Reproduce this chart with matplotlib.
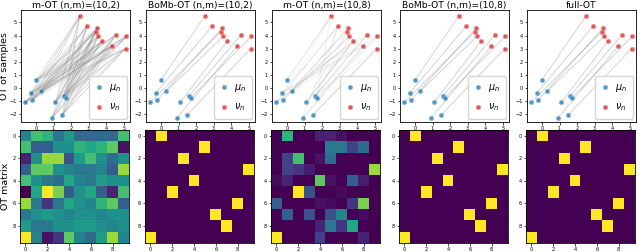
import numpy as np
import matplotlib
matplotlib.use("Agg")
import matplotlib.pyplot as plt

# source samples (rows) and target samples (columns)
mu_x = [0.0, -0.3, -0.6, -0.2, 0.3, 1.1, 1.6, 1.7, 0.9, 1.5]
mu_y = [0.6, -0.4, -1.1, -0.9, -0.25, -1.1, -0.6, -0.75, -2.3, -2.05]
nu_x = [5.1, 2.5, 3.75, 3.4, 3.55, 2.9, 5.15, 4.35, 4.55, 3.5]
nu_y = [3.0, 5.5, 3.55, 4.3, 3.95, 4.7, 3.95, 3.2, 4.05, 4.6]

titles = ["m-OT (n,m)=(10,2)", "BoMb-OT (n,m)=(10,2)", "m-OT (n,m)=(10,8)",
          "BoMb-OT (n,m)=(10,8)", "full-OT"]

# transport plans
m_ot_10_2 = [
    [0.45, 0.70, 0.65, 0.40, 0.55, 0.35, 0.35, 0.35, 0.35, 0.70],
    [0.70, 0.30, 0.30, 0.50, 0.50, 0.65, 0.60, 0.65, 0.75, 0.05],
    [0.10, 0.50, 0.85, 0.85, 0.25, 0.55, 0.70, 0.50, 0.35, 0.50],
    [0.30, 0.75, 0.75, 0.50, 0.45, 0.40, 0.40, 0.45, 0.30, 0.85],
    [0.70, 0.50, 0.40, 0.35, 0.60, 0.45, 0.40, 0.55, 0.50, 0.50],
    [0.00, 0.60, 1.00, 0.80, 0.30, 0.50, 0.60, 0.30, 0.10, 0.70],
    [0.85, 0.40, 0.15, 0.40, 0.60, 0.50, 0.45, 0.65, 0.75, 0.30],
    [0.40, 0.50, 0.55, 0.50, 0.45, 0.50, 0.50, 0.45, 0.50, 0.50],
    [0.55, 0.40, 0.40, 0.50, 0.50, 0.55, 0.55, 0.50, 0.45, 0.50],
    [1.00, 0.45, 0.05, 0.15, 0.75, 0.45, 0.35, 0.55, 0.85, 0.45],
]
m_ot_10_8 = [
    [0.00, 0.65, 0.00, 0.00, 0.10, 0.10, 0.05, 0.00, 0.00, 0.00],
    [0.00, 0.00, 0.00, 0.00, 0.00, 0.40, 0.40, 0.20, 0.35, 0.00],
    [0.00, 0.20, 0.70, 0.00, 0.05, 0.35, 0.00, 0.00, 0.00, 0.00],
    [0.00, 0.20, 0.15, 0.08, 0.00, 0.00, 0.00, 0.00, 0.00, 0.85],
    [0.03, 0.10, 0.00, 0.00, 0.75, 0.05, 0.00, 0.30, 0.08, 0.00],
    [0.00, 0.00, 1.00, 0.25, 0.00, 0.00, 0.03, 0.00, 0.00, 0.00],
    [0.30, 0.00, 0.00, 0.00, 0.05, 0.03, 0.00, 0.15, 0.80, 0.00],
    [0.00, 0.30, 0.00, 0.25, 0.00, 0.25, 0.45, 0.00, 0.03, 0.00],
    [0.00, 0.00, 0.00, 0.00, 0.10, 0.40, 0.15, 0.60, 0.00, 0.00],
    [1.00, 0.00, 0.00, 0.00, 0.20, 0.00, 0.00, 0.00, 0.10, 0.00],
]
perm = [1, 5, 3, 9, 4, 2, 8, 6, 7, 0]

def perm_matrix(p):
    M = np.zeros((len(p), len(p)))
    for i, j in enumerate(p):
        M[i, j] = 1.0
    return M

plans = [np.array(m_ot_10_2), perm_matrix(perm), np.array(m_ot_10_8),
         perm_matrix(perm), perm_matrix(perm)]

W, H = 640, 252
fig = plt.figure(figsize=(6.4, 2.52), dpi=100)
lefts = [21, 146, 272, 400, 527]
aw = 109

for k in range(5):
    G = plans[k]
    ax = fig.add_axes([lefts[k] / W, 1 - 122 / H, aw / W, 112 / H])
    mx = G.max()
    for i in range(10):
        for j in range(10):
            if G[i, j] / mx > 1e-8:
                ax.plot([mu_x[i], nu_x[j]], [mu_y[i], nu_y[j]],
                        color=[.5, .5, .5], alpha=0.4 * G[i, j] / mx, lw=0.6,
                        zorder=1)
    ax.scatter(mu_x, mu_y, s=11, color='#1f77b4', alpha=0.75,
               edgecolors='#9cc3e4', linewidths=0.5, label=r'$\mu_n$', zorder=3)
    ax.scatter(nu_x, nu_y, s=11, color='#d62728', alpha=0.75,
               edgecolors='#f0a0a0', linewidths=0.5, label=r'$\nu_n$', zorder=3)
    ax.set_xlim(-0.85, 5.35)
    ax.set_ylim(-2.6, 5.95)
    ax.set_xticks([0, 1, 2, 3, 4, 5])
    ax.set_yticks([-2, -1, 0, 1, 2, 3, 4, 5])
    ax.tick_params(labelsize=3.6, length=1.8, width=0.5, pad=1.2)
    for s in ax.spines.values():
        s.set_linewidth(0.6)
    ax.set_title(titles[k], fontsize=6.6, pad=1.5)
    ax.legend(loc='lower right', fontsize=7, handletextpad=0.5,
              borderpad=0.6, labelspacing=0.8, markerscale=1.0,
              handlelength=1.0, borderaxespad=0.3)
    if k == 0:
        ax.set_ylabel('OT of samples', fontsize=6.8, labelpad=0.5)

    ax2 = fig.add_axes([lefts[k] / W - 1 / W, 1 - 243 / H, aw / W, 113 / H])
    ax2.imshow(G, cmap='viridis', aspect='auto', interpolation='nearest')
    ax2.set_xticks([0, 2, 4, 6, 8])
    ax2.set_yticks([0, 2, 4, 6, 8])
    ax2.tick_params(labelsize=3.6, length=1.8, width=0.5, pad=1.2)
    for s in ax2.spines.values():
        s.set_linewidth(0.6)
    if k == 0:
        ax2.set_ylabel('OT matrix', fontsize=6.8, labelpad=1.5)

fig.savefig('out.png', dpi=100)
